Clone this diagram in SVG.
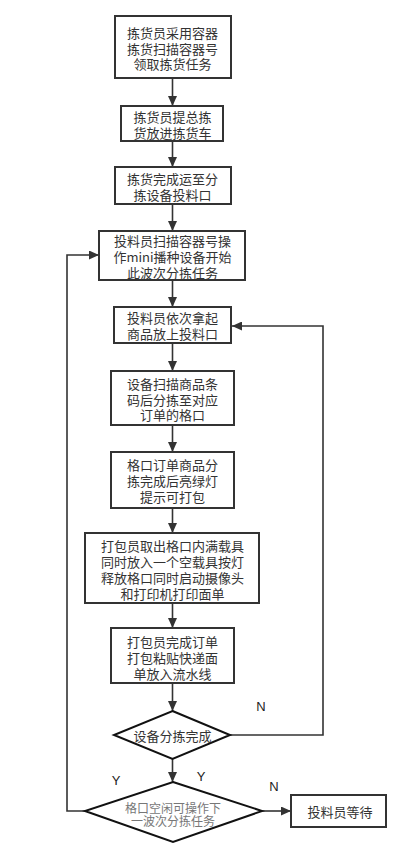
<svg xmlns="http://www.w3.org/2000/svg" width="410" height="859" viewBox="0 0 410 859">
<style>
.box{fill:#fff;stroke:#333;stroke-width:2}
.dia{fill:#fff;stroke:#111;stroke-width:2}
.t{font-family:"Noto Sans CJK SC","Liberation Sans",sans-serif;font-size:13px;fill:#333;text-anchor:middle;dominant-baseline:central}
.tg{font-family:"Noto Sans CJK SC","Liberation Sans",sans-serif;font-size:12px;fill:#777;text-anchor:middle;dominant-baseline:central}
.lbl{font-family:"Liberation Sans",sans-serif;font-size:13px;fill:#222;text-anchor:middle;dominant-baseline:central}
.c{fill:none;stroke:#333;stroke-width:1.6}
</style>
<defs>
<marker id="ah" markerUnits="userSpaceOnUse" markerWidth="11" markerHeight="9" refX="10" refY="4.5" orient="auto">
<path d="M0,0 L10,4.5 L0,9 z" fill="#333"/>
</marker>
</defs>
<rect width="410" height="859" fill="#fff"/>
<g id="connectors">
<line class="c" x1="172.5" y1="78" x2="172.5" y2="106" marker-end="url(#ah)"/>
<line class="c" x1="172.5" y1="141" x2="172.5" y2="167" marker-end="url(#ah)"/>
<line class="c" x1="172.5" y1="204" x2="172.5" y2="231" marker-end="url(#ah)"/>
<line class="c" x1="172.5" y1="280" x2="172.5" y2="307" marker-end="url(#ah)"/>
<line class="c" x1="172.5" y1="343" x2="172.5" y2="371" marker-end="url(#ah)"/>
<line class="c" x1="172.5" y1="425" x2="172.5" y2="452" marker-end="url(#ah)"/>
<line class="c" x1="172.5" y1="508" x2="172.5" y2="533" marker-end="url(#ah)"/>
<line class="c" x1="172.5" y1="603" x2="172.5" y2="628" marker-end="url(#ah)"/>
<line class="c" x1="172.5" y1="683" x2="172.5" y2="711" marker-end="url(#ah)"/>
<line class="c" x1="172.5" y1="759" x2="172.5" y2="782" marker-end="url(#ah)"/>
<polyline class="c" points="230,735 323,735 323,326 232,326" marker-end="url(#ah)"/>
<polyline class="c" points="85,811 67,811 67,255 99,255" marker-end="url(#ah)"/>
<line class="c" x1="262" y1="811" x2="291" y2="811" marker-end="url(#ah)"/>
<text class="lbl" x="261" y="706">N</text>
<text class="lbl" x="116" y="780">Y</text>
<text class="lbl" x="201" y="776">Y</text>
<text class="lbl" x="274" y="786">N</text>
</g>
<g id="n1">
<rect class="box" x="115" y="16" width="116" height="62"/>
<text class="t" x="172.5" y="32">拣货员采用容器<tspan x="172.5" dy="15.5">拣货扫描容器号</tspan><tspan x="172.5" dy="15.5">领取拣货任务</tspan></text>
</g>
<g id="n2">
<rect class="box" x="121" y="106" width="102" height="35"/>
<text class="t" x="172.5" y="116.5">拣货员提总拣<tspan x="172.5" dy="15.5">货放进拣货车</tspan></text>
</g>
<g id="n3">
<rect class="box" x="115" y="167" width="116" height="37"/>
<text class="t" x="172.5" y="178.5">拣货完成运至分<tspan x="172.5" dy="15.5">拣设备投料口</tspan></text>
</g>
<g id="n4">
<rect class="box" x="99" y="231" width="146" height="49"/>
<text class="t" x="172.5" y="240.5">投料员扫描容器号操<tspan x="172.5" dy="15.5">作mini播种设备开始</tspan><tspan x="172.5" dy="15.5">此波次分拣任务</tspan></text>
</g>
<g id="n5">
<rect class="box" x="114" y="307" width="117" height="36"/>
<text class="t" x="172.5" y="317.5">投料员依次拿起<tspan x="172.5" dy="15.5">商品放上投料口</tspan></text>
</g>
<g id="n6">
<rect class="box" x="111" y="371" width="123" height="54"/>
<text class="t" x="172.5" y="383">设备扫描商品条<tspan x="172.5" dy="15.5">码后分拣至对应</tspan><tspan x="172.5" dy="15.5">订单的格口</tspan></text>
</g>
<g id="n7">
<rect class="box" x="111" y="452" width="123" height="56"/>
<text class="t" x="172.5" y="464">格口订单商品分<tspan x="172.5" dy="16">拣完成后亮绿灯</tspan><tspan x="172.5" dy="16">提示可打包</tspan></text>
</g>
<g id="n8">
<rect class="box" x="85" y="533" width="174" height="70"/>
<text class="t" x="172.5" y="545">打包员取出格口内满载具<tspan x="172.5" dy="16">同时放入一个空载具按灯</tspan><tspan x="172.5" dy="16">释放格口同时启动摄像头</tspan><tspan x="172.5" dy="16">和打印机打印面单</tspan></text>
</g>
<g id="n9">
<rect class="box" x="111" y="628" width="123" height="55"/>
<text class="t" x="172.5" y="641">打包员完成订单<tspan x="172.5" dy="16">打包粘贴快递面</tspan><tspan x="172.5" dy="16">单放入流水线</tspan></text>
</g>
<g id="d1">
<polygon class="dia" points="172.5,711 230,735 172.5,759 114,735"/>
<text class="t" x="172.5" y="735">设备分拣完成</text>
</g>
<g id="d2">
<polygon class="dia" points="173,782 262,811 173,842 85,811"/>
<text class="tg" x="173" y="807">格口空闲可操作下<tspan x="173" dy="13">一波次分拣任务</tspan></text>
</g>
<g id="n10">
<rect class="box" x="291" y="795" width="95" height="32"/>
<text class="t" x="340" y="811">投料员等待</text>
</g>
</svg>
